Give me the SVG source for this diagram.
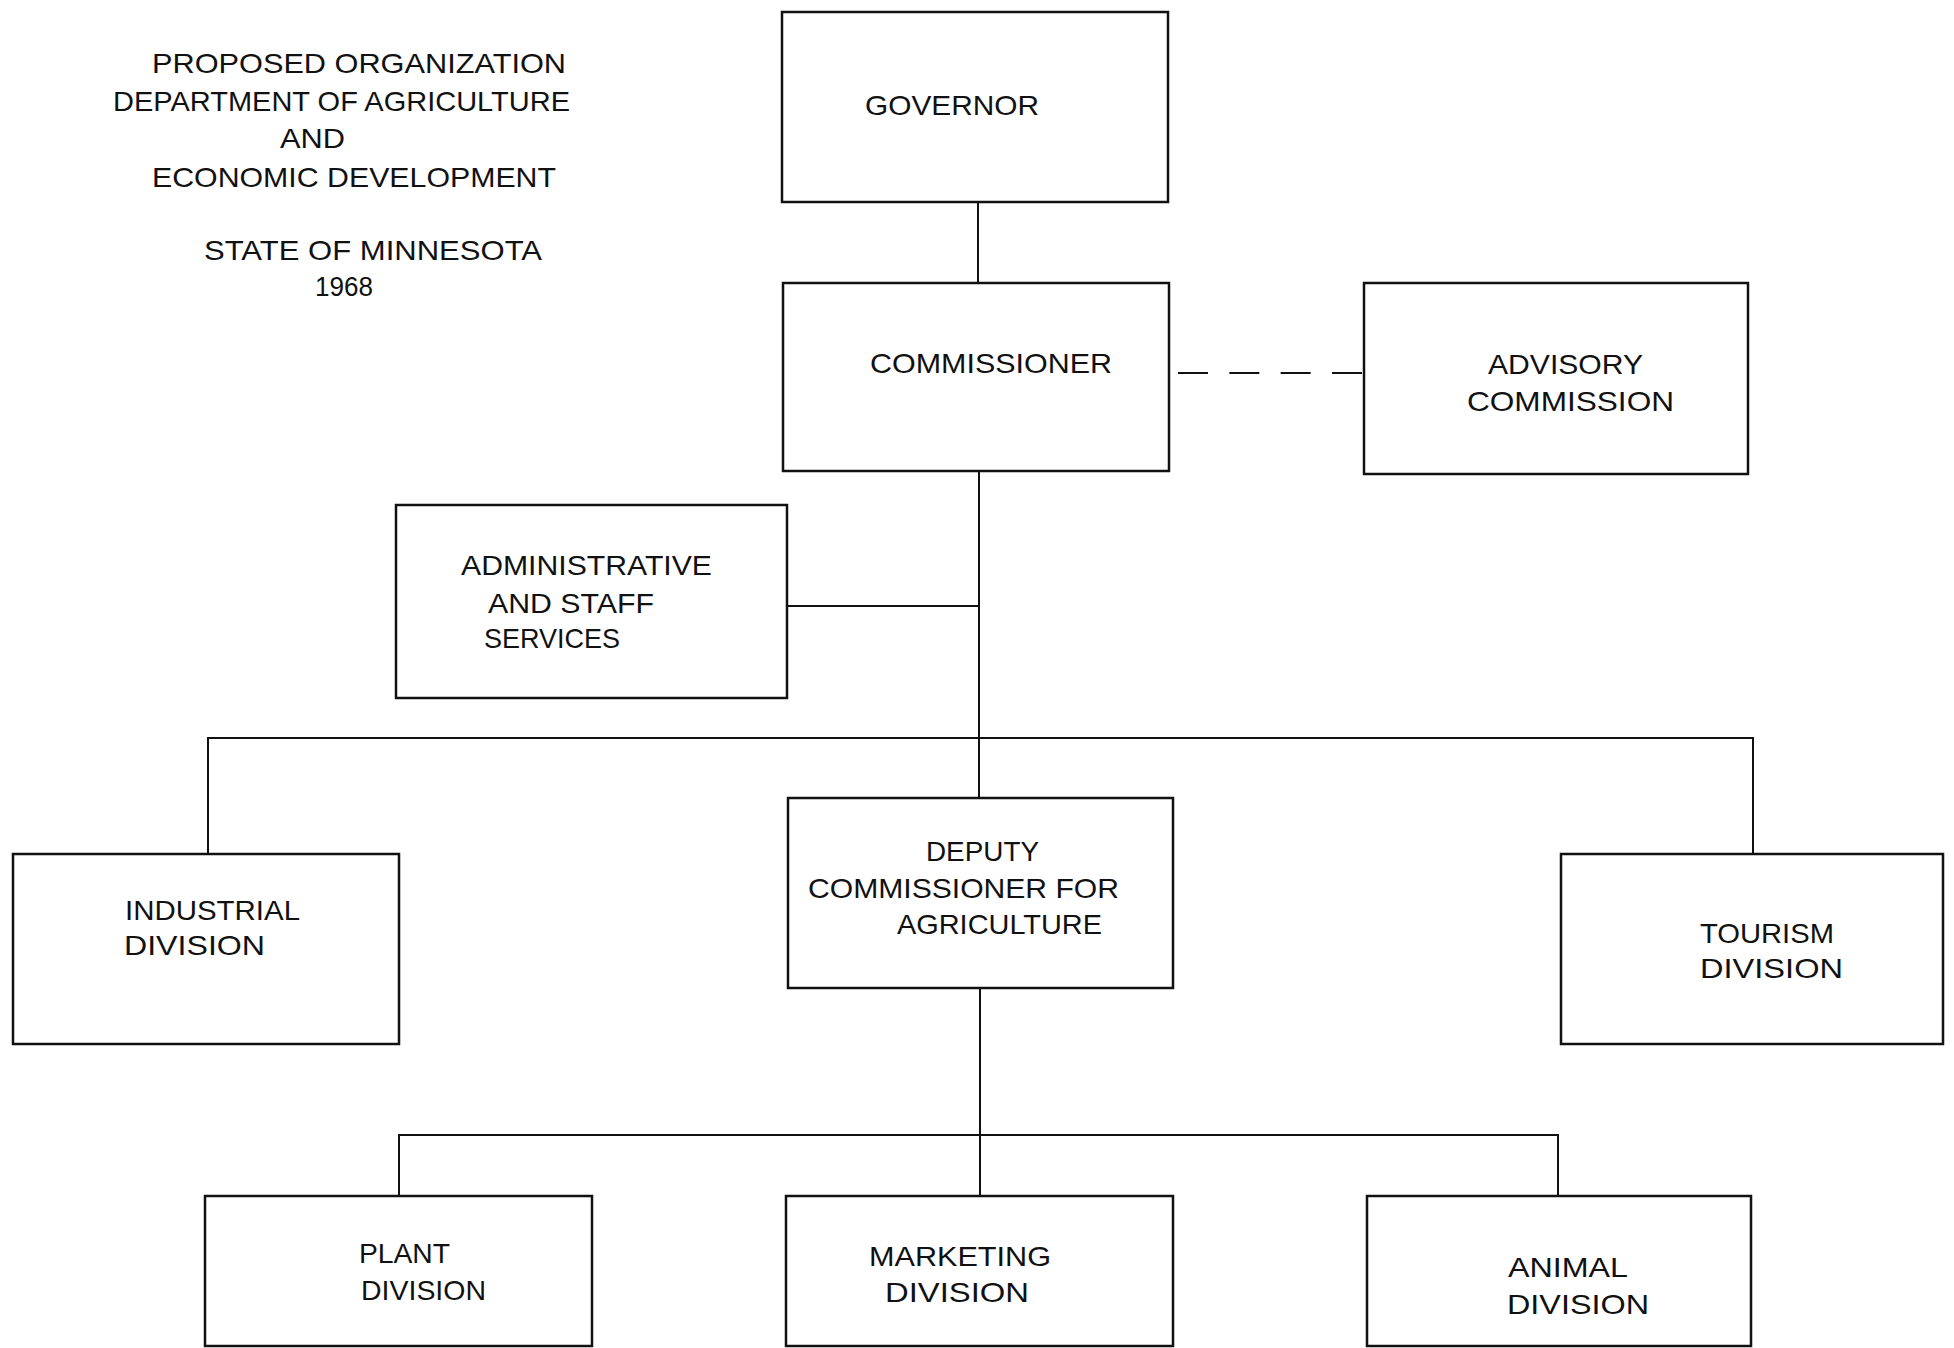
<svg xmlns="http://www.w3.org/2000/svg" width="1954" height="1348" viewBox="0 0 1954 1348">
<style>
.bg{fill:#ffffff}
.box{fill:none;stroke:#111;stroke-width:2.5}
.ln{fill:none;stroke:#111;stroke-width:2}
.dash{fill:none;stroke:#111;stroke-width:2;stroke-dasharray:30 21.33}
text{font-family:"Liberation Sans",Arial,sans-serif;font-size:28px;fill:#111}
</style>
<rect class="bg" x="0" y="0" width="1954" height="1348"/>
<g id="title">
<text x="152" y="73" textLength="414" lengthAdjust="spacingAndGlyphs">PROPOSED ORGANIZATION</text>
<text x="113" y="111" textLength="457" lengthAdjust="spacingAndGlyphs">DEPARTMENT OF AGRICULTURE</text>
<text x="280" y="148" textLength="65" lengthAdjust="spacingAndGlyphs">AND</text>
<text x="152" y="187" textLength="404" lengthAdjust="spacingAndGlyphs">ECONOMIC DEVELOPMENT</text>
<text x="204" y="260" textLength="338" lengthAdjust="spacingAndGlyphs">STATE OF MINNESOTA</text>
<text x="315" y="296" textLength="58" lengthAdjust="spacingAndGlyphs">1968</text>
</g>
<g id="connectors">
<line class="ln" x1="978" y1="203" x2="978" y2="283"/>
<line class="ln" x1="979" y1="471" x2="979" y2="798"/>
<line class="ln" x1="788" y1="606" x2="979" y2="606"/>
<line class="dash" x1="1178" y1="373" x2="1362" y2="373"/>
<polyline class="ln" points="208,854 208,738 1753,738 1753,854"/>
<line class="ln" x1="980" y1="988" x2="980" y2="1196"/>
<polyline class="ln" points="399,1196 399,1135 1558,1135 1558,1196"/>
</g>
<g id="governor">
<rect class="box" x="782" y="12" width="386" height="190"/>
<text x="865" y="115" textLength="174" lengthAdjust="spacingAndGlyphs">GOVERNOR</text>
</g>
<g id="commissioner">
<rect class="box" x="783" y="283" width="386" height="188"/>
<text x="870" y="373" textLength="242" lengthAdjust="spacingAndGlyphs">COMMISSIONER</text>
</g>
<g id="advisory">
<rect class="box" x="1364" y="283" width="384" height="191"/>
<text x="1488" y="374" textLength="155" lengthAdjust="spacingAndGlyphs">ADVISORY</text>
<text x="1467" y="411" textLength="207" lengthAdjust="spacingAndGlyphs">COMMISSION</text>
</g>
<g id="admin">
<rect class="box" x="396" y="505" width="391" height="193"/>
<text x="461" y="575" textLength="251" lengthAdjust="spacingAndGlyphs">ADMINISTRATIVE</text>
<text x="488" y="613" textLength="166" lengthAdjust="spacingAndGlyphs">AND STAFF</text>
<text x="484" y="648" textLength="136" lengthAdjust="spacingAndGlyphs">SERVICES</text>
</g>
<g id="industrial">
<rect class="box" x="13" y="854" width="386" height="190"/>
<text x="125" y="920" textLength="175" lengthAdjust="spacingAndGlyphs">INDUSTRIAL</text>
<text x="124" y="955" textLength="141" lengthAdjust="spacingAndGlyphs">DIVISION</text>
</g>
<g id="deputy">
<rect class="box" x="788" y="798" width="385" height="190"/>
<text x="926" y="861" textLength="113" lengthAdjust="spacingAndGlyphs">DEPUTY</text>
<text x="808" y="898" textLength="311" lengthAdjust="spacingAndGlyphs">COMMISSIONER FOR</text>
<text x="897" y="934" textLength="205" lengthAdjust="spacingAndGlyphs">AGRICULTURE</text>
</g>
<g id="tourism">
<rect class="box" x="1561" y="854" width="382" height="190"/>
<text x="1700" y="943" textLength="134" lengthAdjust="spacingAndGlyphs">TOURISM</text>
<text x="1700" y="978" textLength="143" lengthAdjust="spacingAndGlyphs">DIVISION</text>
</g>
<g id="plant">
<rect class="box" x="205" y="1196" width="387" height="150"/>
<text x="359" y="1263" textLength="91" lengthAdjust="spacingAndGlyphs">PLANT</text>
<text x="361" y="1300" textLength="125" lengthAdjust="spacingAndGlyphs">DIVISION</text>
</g>
<g id="marketing">
<rect class="box" x="786" y="1196" width="387" height="150"/>
<text x="869" y="1266" textLength="182" lengthAdjust="spacingAndGlyphs">MARKETING</text>
<text x="885" y="1302" textLength="144" lengthAdjust="spacingAndGlyphs">DIVISION</text>
</g>
<g id="animal">
<rect class="box" x="1367" y="1196" width="384" height="150"/>
<text x="1508" y="1277" textLength="120" lengthAdjust="spacingAndGlyphs">ANIMAL</text>
<text x="1507" y="1314" textLength="142" lengthAdjust="spacingAndGlyphs">DIVISION</text>
</g>
</svg>
